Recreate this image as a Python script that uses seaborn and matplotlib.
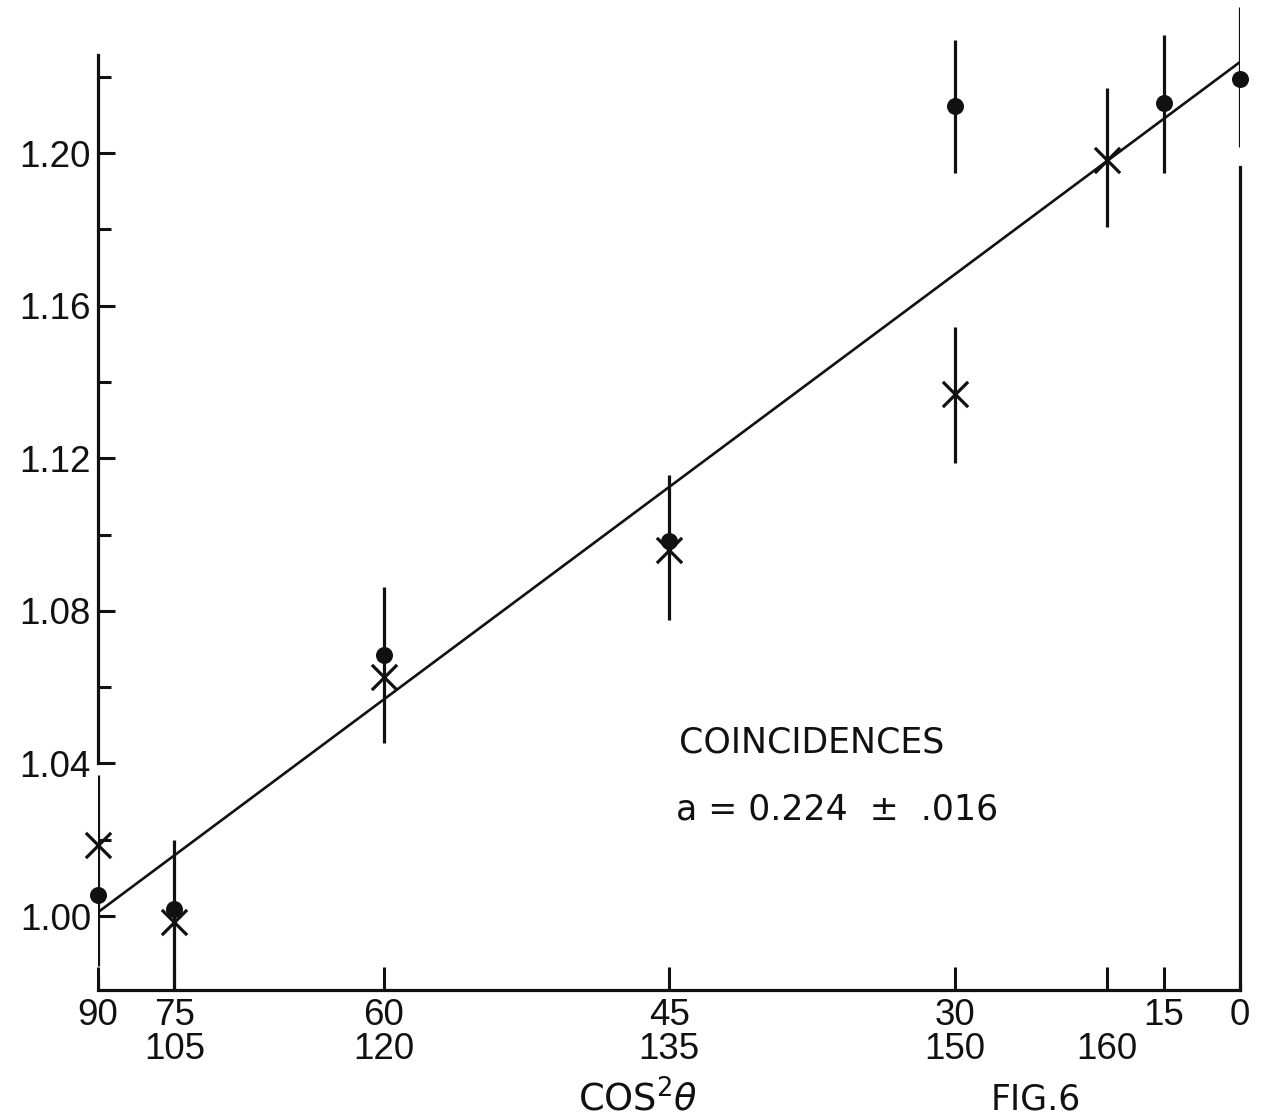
import numpy as np
import pandas as pd
import matplotlib
matplotlib.use("Agg")
import matplotlib.pyplot as plt
import seaborn as sns

sns.set_theme(style="ticks")
plt.rcParams["font.family"] = ["Liberation Sans", "DejaVu Sans"]
plt.rcParams["mathtext.fontset"] = "dejavusans"

# ── data ─────────────────────────────────────────────────────────────────────
# x is cos^2(theta); the tick labels give theta in degrees
tick_angles = [90, 75, 60, 45, 30, 160, 15, 0]
tick_labels = ["90", "75\n105", "60\n120", "45\n135", "30\n150", "\n160", "15", "0"]

dot_angles = [90, 75, 60, 45, 30, 15, 0]
dot_values = [1.0055, 1.0018, 1.0684, 1.0983, 1.2123, 1.2131, 1.2194]

cross_angles = [90, 75, 60, 45, 30, 160]
cross_values = [1.0186, 0.9984, 1.0626, 1.0959, 1.1368, 1.1982]

err_angles = [90, 75, 60, 45, 30, 30, 160, 15, 0]
err_low = [0.987, 0.970, 1.0453, 1.0776, 1.1948, 1.1187, 1.1806, 1.1948, 1.2016]
err_high = [1.037, 1.0199, 1.0862, 1.1156, 1.2296, 1.1544, 1.2170, 1.2309, 1.2383]

fit_intercept = 1.001
fit_slope = 0.2229

y_major = [1.00, 1.04, 1.08, 1.12, 1.16, 1.20]
y_minor = [1.02, 1.06, 1.10, 1.14, 1.18, 1.22]


def cos2(deg):
    return np.cos(np.radians(np.asarray(deg, dtype=float))) ** 2


dots = pd.DataFrame({"x": cos2(dot_angles), "y": dot_values})
crosses = pd.DataFrame({"x": cos2(cross_angles), "y": cross_values})
fit = pd.DataFrame({"x": [0.0, 1.0]})
fit["y"] = fit_intercept + fit_slope * fit["x"]

# ── figure ───────────────────────────────────────────────────────────────────
fig = plt.figure(figsize=(12.72, 11.2), dpi=100)
ax = fig.add_axes([0.077, 0.116, 0.898, 0.8836])
ymin, ymax = 0.9806, 1.240
ax.set_xlim(0, 1)
ax.set_ylim(ymin, ymax)

ink = "#111111"

ax.vlines(cos2(err_angles), err_low, err_high, color=ink, lw=2.3)
sns.lineplot(data=fit, x="x", y="y", ax=ax, color=ink, lw=1.9)
sns.scatterplot(data=dots, x="x", y="y", ax=ax, marker="o", s=150,
                color=ink, edgecolor=ink, linewidth=0, zorder=3, clip_on=False)
sns.scatterplot(data=crosses, x="x", y="y", ax=ax, marker="x", s=330,
                color=ink, linewidth=2.3, zorder=3, clip_on=False)

# spines like the hand-drawn frame
ax.spines["top"].set_visible(False)
for side in ["left", "right", "bottom"]:
    ax.spines[side].set_linewidth(2.3)
    ax.spines[side].set_color(ink)
ax.spines["left"].set_bounds(1.04, 1.2257)
ax.spines["right"].set_bounds(ymin, 1.1963)
ax.axvline(0, 0, 0.013, color=ink, lw=2.3)

ax.set_yticks(y_major)
ax.set_yticklabels([f"{v:.2f}" for v in y_major])
ax.set_yticks(y_minor, minor=True)
ax.set_xticks(cos2(tick_angles))
ax.set_xticklabels(tick_labels)
ax.tick_params(axis="y", which="major", direction="in", length=12.5, width=2.2,
               labelsize=26.5, pad=5, colors=ink, right=False)
ax.tick_params(axis="y", which="minor", direction="in", length=9.5, width=2.2,
               colors=ink, right=False)
ax.tick_params(axis="x", which="major", direction="in", length=16.5, width=2.2,
               labelsize=26.5, pad=6, colors=ink, top=False)
for lbl in ax.get_xticklabels():
    lbl.set_linespacing(0.95)

ax.set_xlabel("")
ax.set_ylabel("")

wide = ["DejaVu Sans"]
ax.text(0.509, 1.0455, "COINCIDENCES", fontsize=25, color=ink, va="center",
        family=wide)
ax.text(0.506, 1.0280, "a = 0.224  ±  .016", fontsize=25, color=ink,
        va="center", family=wide)

fig.text(0.501, 1 - 1100 / 1120, r"COS$^{2}\theta$", fontsize=26.5, color=ink,
         ha="center", va="center", family=wide)
fig.text(0.814, 1 - 1100 / 1120, "FIG.6", fontsize=25, color=ink,
         ha="center", va="center", family=wide)

fig.savefig("out.png", dpi=100, facecolor="white")
plt.close(fig)
print("Saved out.png")
